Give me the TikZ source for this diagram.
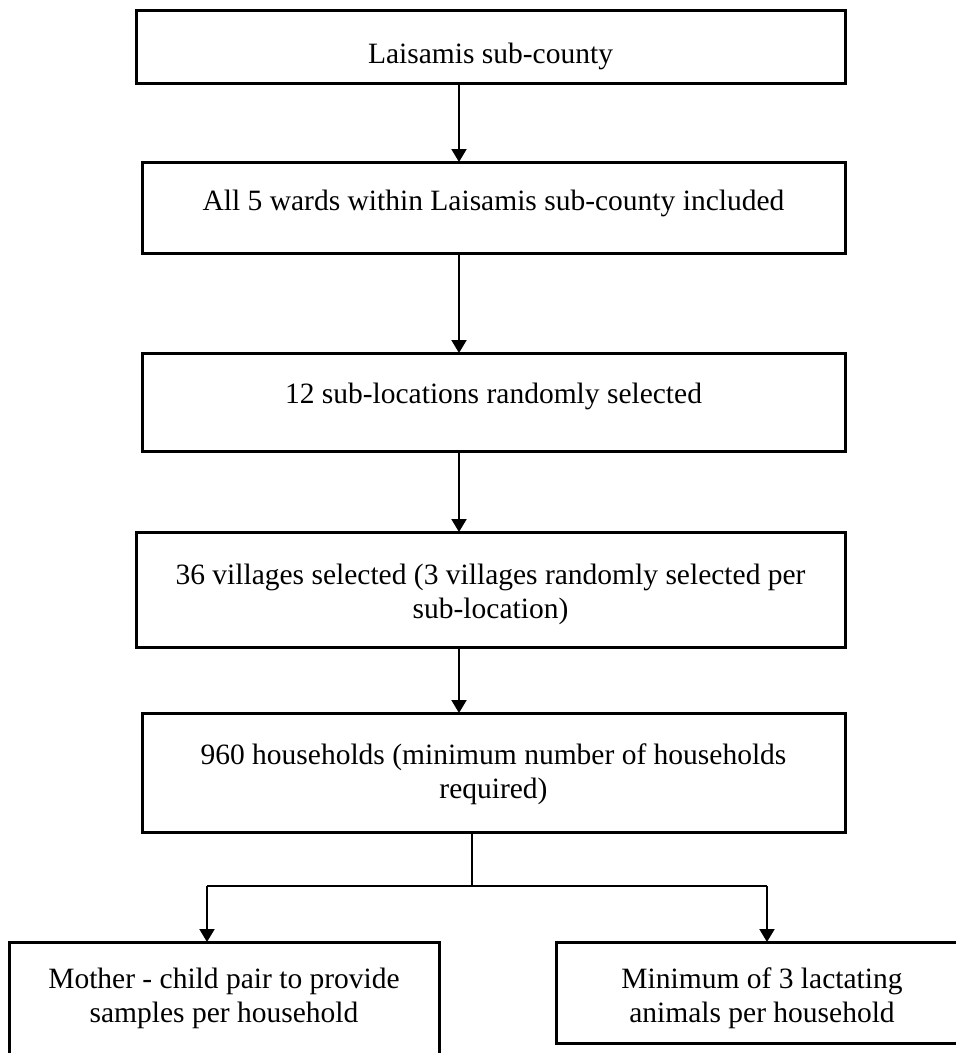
\documentclass[tikz,border=0pt]{standalone}
\usepackage{fontspec}
\setmainfont{Liberation Serif}
\usetikzlibrary{arrows.meta}
\tikzset{
  box/.style={draw, line width=3pt, rectangle, inner sep=0pt, outer sep=0pt},
  txt/.style={anchor=base, inner sep=0pt, font=\fontsize{29.5}{34}\selectfont},
  conn/.style={line width=2pt},
  arr/.style={line width=2pt, -{Triangle[width=15pt,length=13pt]}}
}
\newcommand{\twol}[2]{\begin{tabular}[t]{@{}c@{}}#1\\#2\end{tabular}}
\begin{document}
\begin{tikzpicture}[x=1pt,y=-1pt]
\useasboundingbox (0,0) rectangle (956,1053);
\clip (0,0) rectangle (956,1053);
% boxes
\node[box, minimum width=709pt, minimum height=73pt]  (b1) at (490.5,46.5) {};
\node[box, minimum width=703pt, minimum height=91pt]  (b2) at (493.5,207.5) {};
\node[box, minimum width=703pt, minimum height=98pt]  (b3) at (493.5,402) {};
\node[box, minimum width=709pt, minimum height=115pt] (b4) at (490.5,589.5) {};
\node[box, minimum width=703pt, minimum height=119pt] (b5) at (493.5,772.5) {};
\node[box, minimum width=430pt, minimum height=133pt] (b6) at (224,1008.5) {};
\node[box, minimum width=412pt, minimum height=101pt] (b7) at (762,992.5) {};
% texts
\node[txt] (t1) at (490.5,63) {Laisamis sub-county};
\node[txt] (t2) at (493.5,210) {All 5 wards within Laisamis sub-county included};
\node[txt] (t3) at (493.5,403) {12 sub-locations randomly selected};
\node[txt] (t4) at (490.5,584) {\twol{36 villages selected (3 villages randomly selected per}{sub-location)}};
\node[txt] (t5) at (493.5,764) {\twol{960 households (minimum number of households}{required)}};
\node[txt] (t6) at (224,988) {\twol{Mother - child pair to provide}{samples per household}};
\node[txt] (t7) at (762,988) {\twol{Minimum of 3 lactating}{animals per household}};
% connectors
\coordinate (cx) at (459,0);
\coordinate (j) at (472,886);
\coordinate (jl) at (207,886);
\coordinate (jr) at (767,886);
\draw[arr] (b1.south -| cx) -- (b2.north -| cx);
\draw[arr] (b2.south -| cx) -- (b3.north -| cx);
\draw[arr] (b3.south -| cx) -- (b4.north -| cx);
\draw[arr] (b4.south -| cx) -- (b5.north -| cx);
\draw[conn] (b5.south -| j) -- (j);
\draw[conn] (jl) -- (jr);
\draw[arr] (jl) -- (b6.north -| jl);
\draw[arr] (jr) -- (b7.north -| jr);
\end{tikzpicture}
\end{document}
